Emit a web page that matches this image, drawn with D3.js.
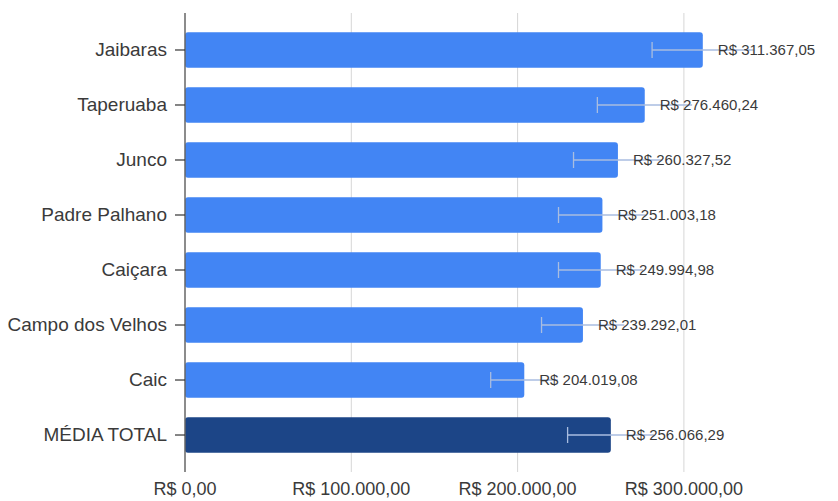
<!DOCTYPE html>
<html>
<head>
<meta charset="utf-8">
<script src="https://cdn.jsdelivr.net/npm/d3@7/dist/d3.min.js"></script>
<style>
  html, body { margin: 0; padding: 0; background: #fff; }
  svg { display: block; font-family: "Liberation Sans", Arial, sans-serif; }
</style>
</head>
<body>
<svg id="chart" width="838" height="501"></svg>
<script>
const categories = ["Jaibaras", "Taperuaba", "Junco", "Padre Palhano", "Caiçara", "Campo dos Velhos", "Caic", "MÉDIA TOTAL"];
const values = [311367.05, 276460.24, 260327.52, 251003.18, 249994.98, 239292.01, 204019.08, 256066.29];
const errors = [30500, 28500, 26700, 26400, 25400, 24900, 20200, 26000];
const labels = ["R$ 311.367,05", "R$ 276.460,24", "R$ 260.327,52", "R$ 251.003,18", "R$ 249.994,98", "R$ 239.292,01", "R$ 204.019,08", "R$ 256.066,29"];
const xTicks = [0, 100000, 200000, 300000];
const xTickLabels = ["R$ 0,00", "R$ 100.000,00", "R$ 200.000,00", "R$ 300.000,00"];
const barColors = ["#4285f4", "#4285f4", "#4285f4", "#4285f4", "#4285f4", "#4285f4", "#4285f4", "#1c4587"];

const svg = d3.select("#chart");
const mLeft = 185, mTop = 13, mBottom = 472;
const x = d3.scaleLinear().domain([0, 300000]).range([mLeft, mLeft + 3 * 166.3]);
const y = d3.scaleBand().domain(categories).range([mTop, mBottom]).paddingInner(0.355).paddingOuter(0.35);

// gridlines
svg.append("g").selectAll("line").data(xTicks.slice(1)).join("line")
  .attr("x1", d => x(d)).attr("x2", d => x(d))
  .attr("y1", mTop).attr("y2", mBottom)
  .attr("stroke", "#d6d6d6").attr("stroke-width", 1);

// x tick labels
svg.append("g").selectAll("text").data(xTicks).join("text")
  .attr("x", d => x(d)).attr("y", 495)
  .attr("text-anchor", "middle")
  .attr("font-size", 18).attr("fill", "#3a3a3a")
  .text((d, i) => xTickLabels[i]);

// bars
const rows = categories.map((c, i) => ({c, v: values[i], e: errors[i], l: labels[i], col: barColors[i]}));
svg.append("g").selectAll("rect").data(rows).join("rect")
  .attr("x", x(0)).attr("y", d => y(d.c))
  .attr("width", d => x(d.v) - x(0)).attr("height", y.bandwidth())
  .attr("rx", 3).attr("ry", 3)
  .attr("fill", d => d.col);

// error bars
const eg = svg.append("g");
eg.selectAll("line.h").data(rows).join("line").attr("class", "h")
  .attr("x1", d => x(d.v - d.e)).attr("x2", d => x(d.v + d.e))
  .attr("y1", d => y(d.c) + y.bandwidth() / 2).attr("y2", d => y(d.c) + y.bandwidth() / 2)
  .attr("stroke", "#a9bde0").attr("stroke-width", 1.3);
eg.selectAll("line.cap").data(rows).join("line").attr("class", "cap")
  .attr("x1", d => x(d.v - d.e)).attr("x2", d => x(d.v - d.e))
  .attr("y1", d => y(d.c) + y.bandwidth() / 2 - 8).attr("y2", d => y(d.c) + y.bandwidth() / 2 + 8)
  .attr("stroke", "#a9bde0").attr("stroke-width", 1.3);

// data labels
svg.append("g").selectAll("text").data(rows).join("text")
  .attr("x", d => x(d.v) + 15).attr("y", d => y(d.c) + y.bandwidth() / 2)
  .attr("dy", "0.35em")
  .attr("font-size", 15).attr("fill", "#3a3a3a")
  .text(d => d.l);

// y axis
const yAxis = d3.axisLeft(y).tickSize(10).tickPadding(8);
const ga = svg.append("g").attr("transform", `translate(${mLeft},0)`).call(yAxis);
ga.select(".domain").attr("d", `M0,${mTop}V${mBottom}`).attr("stroke", "#666").attr("stroke-width", 1.5);
ga.selectAll(".tick line").attr("stroke", "#333").attr("stroke-width", 1.2);
ga.selectAll(".tick text").attr("font-size", 19).attr("fill", "#3a3a3a")
  .attr("font-family", "Liberation Sans, Arial, sans-serif");
</script>
</body>
</html>
